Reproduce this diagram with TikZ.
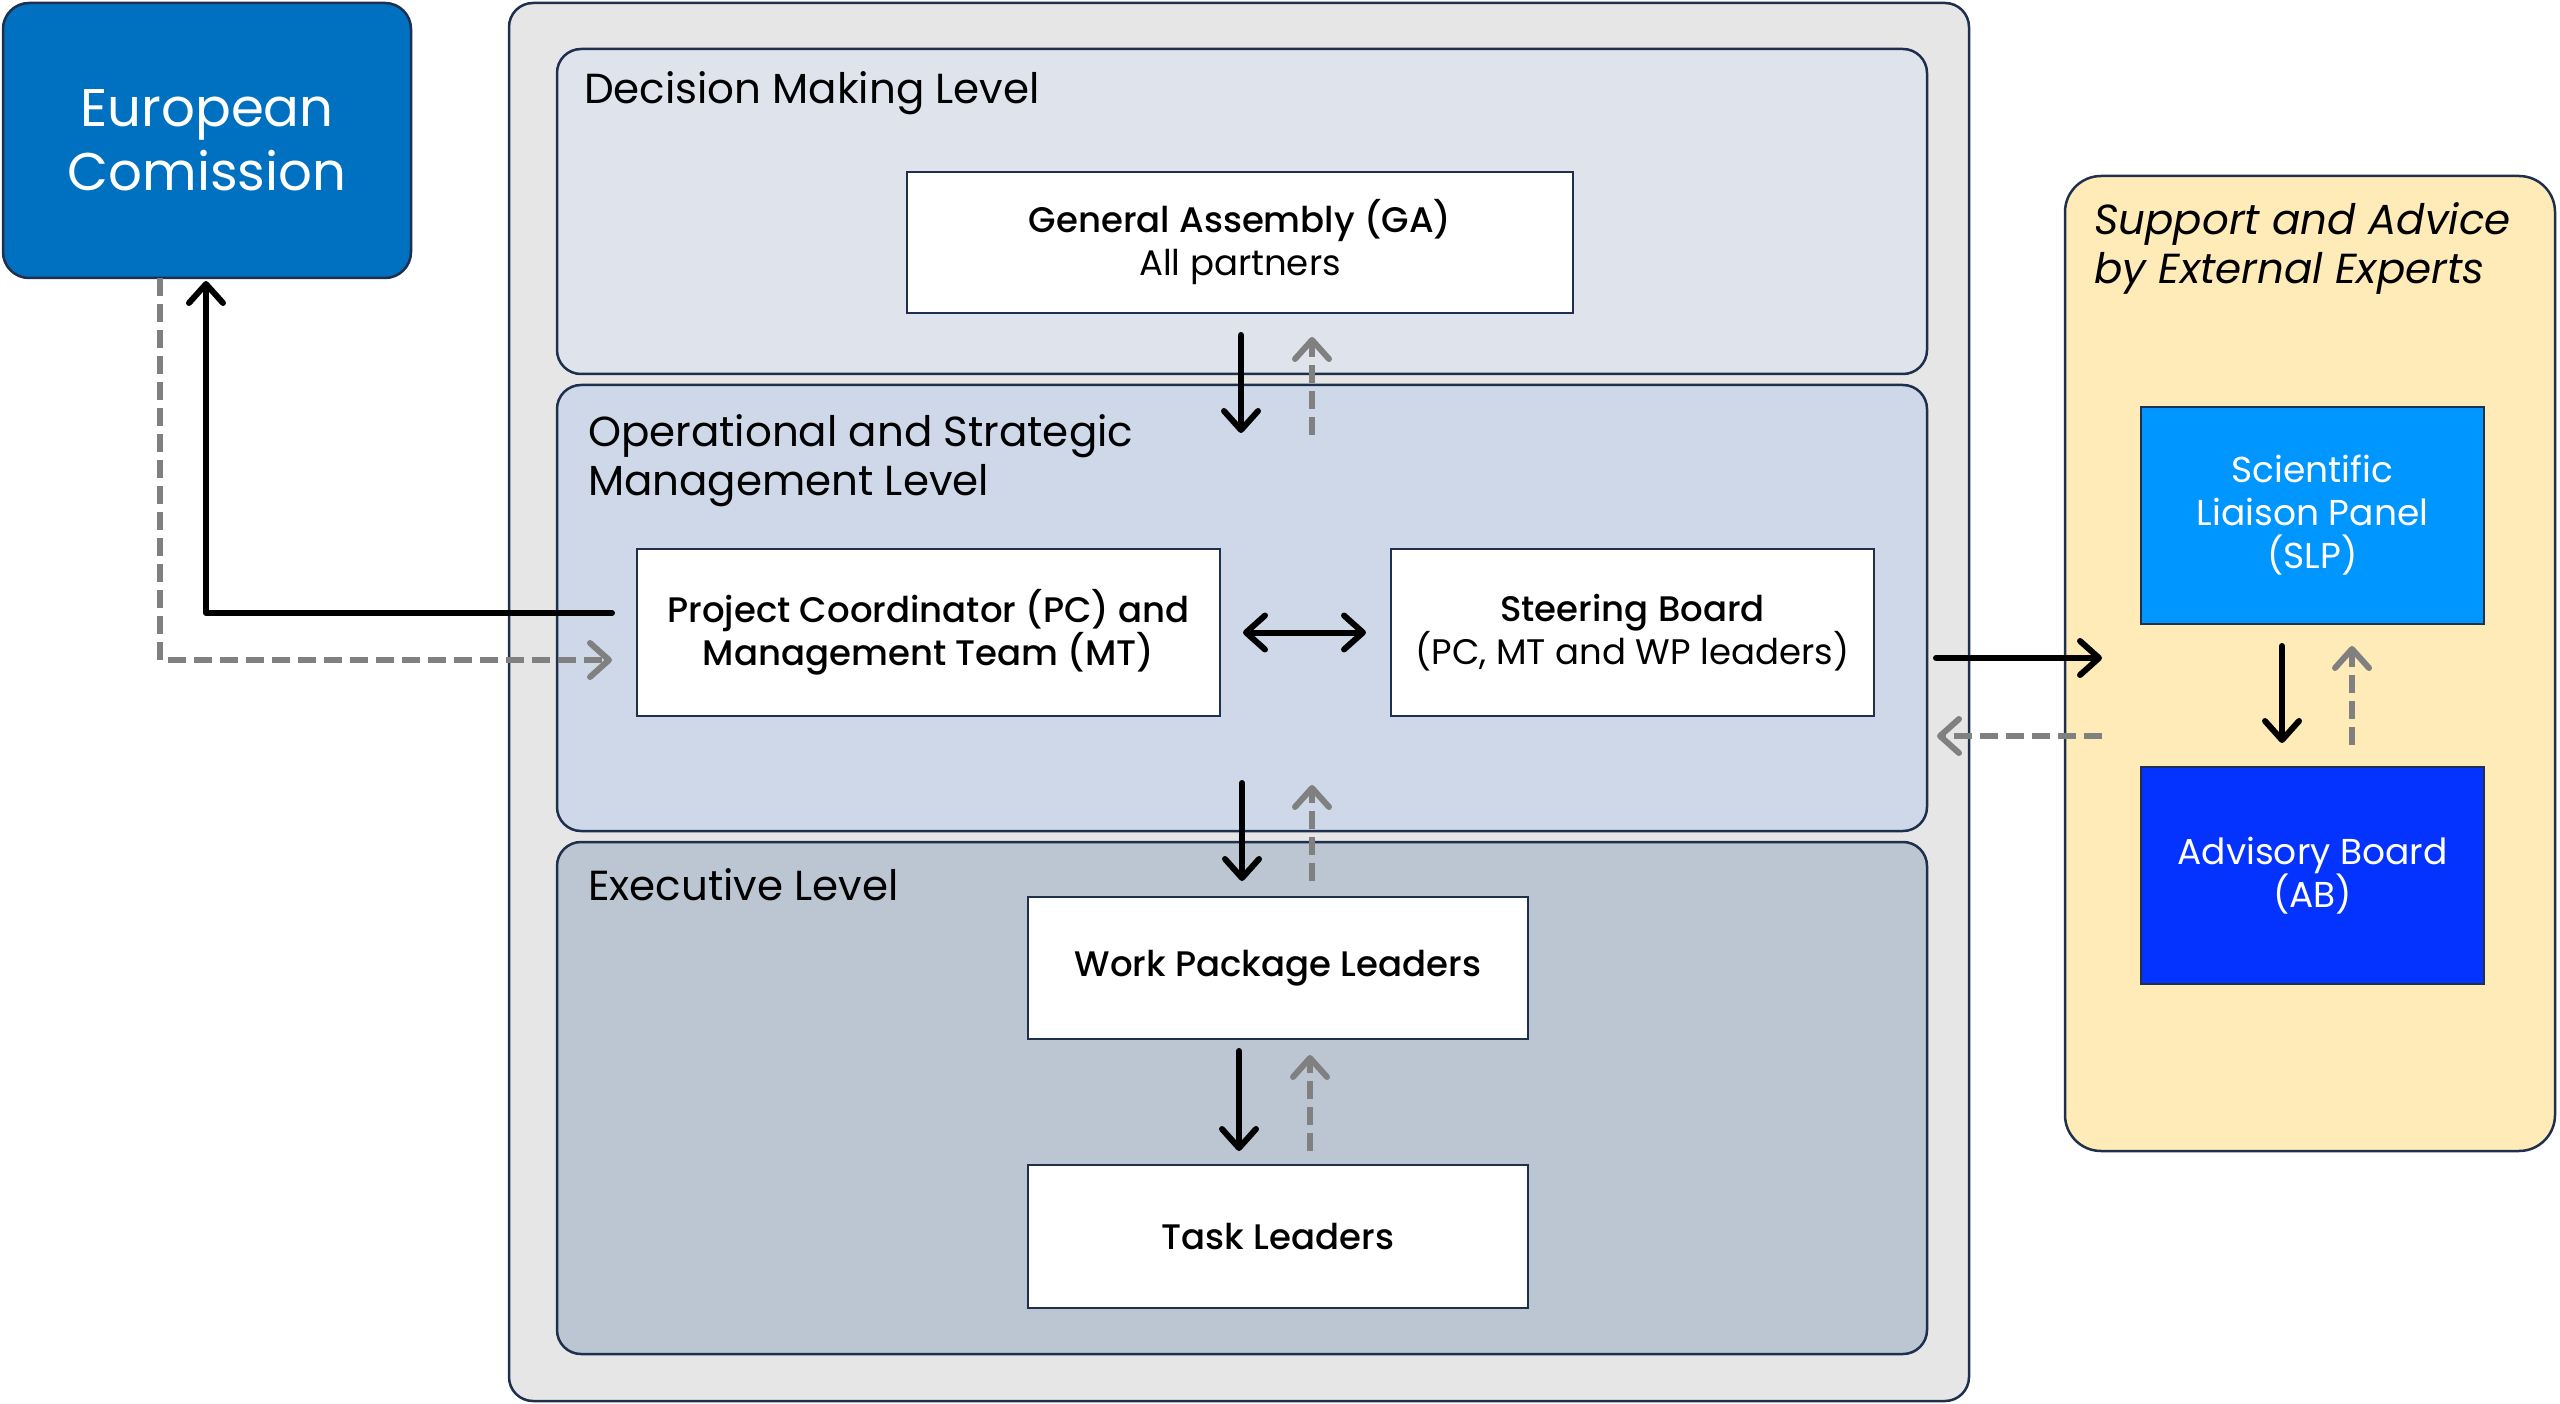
\documentclass[tikz,border=0pt]{standalone}
\usepackage{fontspec}
\setmainfont{Poppins}[BoldFont={Poppins Medium}]
\usetikzlibrary{arrows.meta}
\definecolor{navy}{HTML}{1F2F4E}
\definecolor{outergray}{HTML}{E6E6E6}
\definecolor{dmlc}{HTML}{DFE3EC}
\definecolor{osmc}{HTML}{CED8E8}
\definecolor{exlc}{HTML}{BCC6D3}
\definecolor{ecblue}{HTML}{0070C0}
\definecolor{yelc}{HTML}{FFEBB7}
\definecolor{slpc}{HTML}{0096FF}
\definecolor{abc}{HTML}{0433FF}
\definecolor{arrgray}{HTML}{808080}
\tikzset{
  panel/.style={draw=navy, line width=2.5pt, inner sep=0pt, outer sep=0pt, anchor=north west},
  lvl/.style={panel, rounded corners=24pt},
  wbox/.style={draw=navy, line width=2.5pt, fill=white, inner sep=0pt, outer sep=0pt, align=center, font=\fontsize{35.5}{43}\selectfont},
  cbox/.style={wbox, text=white, font=\fontsize{36}{43}\selectfont},
  ttl/.style={inner sep=0pt, outer sep=0pt, align=left, font=\fontsize{42}{49}\selectfont},
  barb/.tip={Straight Barb[length=19pt,width=34pt,round]},
  blk/.style={draw=black, line width=6pt, -barb, line cap=round, line join=round},
  gry/.style={draw=arrgray, line width=6pt, -barb, dash pattern=on 18pt off 8pt, line join=round},
}
\begin{document}
\begin{tikzpicture}[x=1pt,y=-1pt]
\useasboundingbox (0,0) rectangle (2560,1404);
% panels
\node[lvl, fill=outergray, minimum width=1460pt, minimum height=1398pt] (outer) at (509,3) {};
\node[lvl, fill=dmlc, minimum width=1370pt, minimum height=325pt] (dml) at (557,49) {};
\node[lvl, fill=osmc, minimum width=1370pt, minimum height=446pt] (osm) at (557,385) {};
\node[lvl, fill=exlc, minimum width=1370pt, minimum height=512pt] (exl) at (557,842) {};
\node[panel, rounded corners=36pt, fill=yelc, minimum width=490pt, minimum height=975pt] (yel) at (2065,176) {};
\node[panel, rounded corners=26pt, fill=ecblue, minimum width=408pt, minimum height=275pt, text=white, align=center, font=\fontsize{53}{64}\selectfont, anchor=center] (ec) at (207,140.5) {European\\Comission};
% titles
\node[ttl, anchor=base west] (tdml) at (584,104) {Decision Making Level};
\node[ttl, anchor=west] (tosm) at (588,461) {Operational and Strategic\\Management Level};
\node[ttl, anchor=base west] (texl) at (588,900) {Executive Level};
\node[ttl, anchor=west, font=\fontsize{42}{49}\selectfont\itshape] (tyel) at (2094,248) {Support and Advice\\by External Experts};
% boxes
\node[wbox, minimum width=666pt, minimum height=141pt] (ga) at (1240,242.5) {\textbf{General Assembly (GA)}\\All partners};
\node[wbox, minimum width=583pt, minimum height=167pt] (pc) at (928.5,632.5) {\textbf{Project Coordinator (PC) and}\\\textbf{Management Team (MT)}};
\node[wbox, minimum width=483pt, minimum height=167pt] (sb) at (1632.5,632.5) {\textbf{Steering Board}\\(PC, MT and WP leaders)};
\node[wbox, minimum width=500pt, minimum height=142pt] (wpl) at (1278,968) {\textbf{Work Package Leaders}};
\node[wbox, minimum width=500pt, minimum height=143pt] (tl) at (1278,1236.5) {\textbf{Task Leaders}};
\node[cbox, fill=slpc, minimum width=343pt, minimum height=217pt] (slp) at (2312.5,515.5) {Scientific\\Liaison Panel\\(SLP)};
\node[cbox, fill=abc, minimum width=343pt, minimum height=217pt] (ab) at (2312.5,875.5) {Advisory Board\\(AB)};
% free arrow ends
\coordinate (g1) at (1241,335); \coordinate (g2) at (1241,433);
\coordinate (g3) at (1312,435); \coordinate (g4) at (1312,337);
\coordinate (o1) at (1242,783); \coordinate (o2) at (1242,881);
\coordinate (o3) at (1312,881); \coordinate (o4) at (1312,785);
\coordinate (w1) at (1239,1051); \coordinate (w2) at (1239,1151);
\coordinate (w3) at (1310,1151); \coordinate (w4) at (1310,1055);
\coordinate (s1) at (2282,646); \coordinate (s2) at (2282,743);
\coordinate (s3) at (2352,745); \coordinate (s4) at (2352,646);
\coordinate (r1) at (1936,658); \coordinate (r2) at (2102,658);
\coordinate (r3) at (2102,736); \coordinate (r4) at (1937,736);
\coordinate (e1) at (612,613); \coordinate (e2) at (612,660);
% connectors
\draw[blk] (g1) -- (g2);
\draw[gry] (g3) -- (g4);
\draw[blk] (o1) -- (o2);
\draw[gry] (o3) -- (o4);
\draw[blk] (w1) -- (w2);
\draw[gry] (w3) -- (w4);
\draw[blk] (s1) -- (s2);
\draw[gry] (s3) -- (s4);
\draw[blk] (r1) -- (r2);
\draw[gry] (r3) -- (r4);
\draw[blk, barb-barb] ([xshift=23pt]pc.east) -- ([xshift=-25pt]sb.west);
\draw[blk] (e1) -| ([xshift=-1pt,yshift=-3pt]ec.south);
\draw[gry] ([xshift=-47pt]ec.south) |- (e2);
\end{tikzpicture}
\end{document}
